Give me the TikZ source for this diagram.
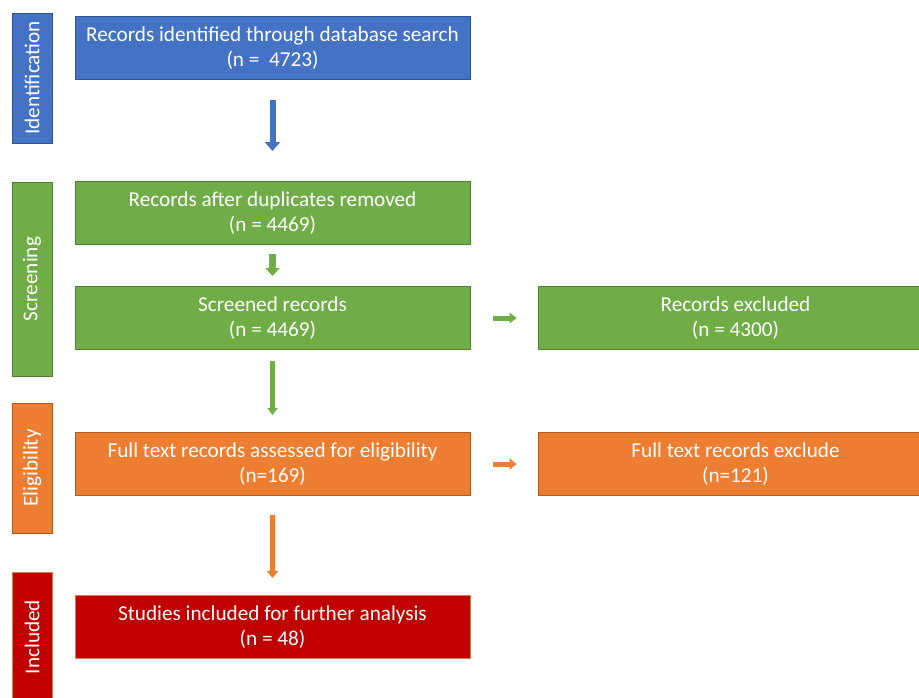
\documentclass[tikz,border=0pt]{standalone}
\usepackage{fontspec}
\setmainfont{Carlito}
\usetikzlibrary{positioning}
\usetikzlibrary{arrows.meta}

\definecolor{idblue}{HTML}{4472C4}
\definecolor{idblueline}{HTML}{2F528F}
\definecolor{scrgreen}{HTML}{70AD47}
\definecolor{scrgreenline}{HTML}{507E32}
\definecolor{eliorange}{HTML}{ED7D31}
\definecolor{eliorangeline}{HTML}{AE5A21}
\definecolor{incred}{HTML}{C00000}
\definecolor{incredline}{HTML}{D08050}

\tikzset{
  box/.style={rectangle, draw, line width=1pt, text=white, align=center,
    minimum width=395pt, minimum height=63pt, inner sep=0pt,
    font=\fontsize{21.2}{25}\selectfont},
  side/.style={rectangle, draw, line width=1pt, text=white, rotate=90,
    minimum width=130pt, minimum height=40pt, inner sep=0pt,
    font=\fontsize{21.2}{25}\selectfont},
  flow/.style={line cap=butt}
}

\begin{document}
\begin{tikzpicture}[x=1pt,y=-1pt]

  \useasboundingbox (0,0) rectangle (919,697);

  % Phase labels
  \node[side, fill=idblue, draw=idblueline] (ident) at (32,78) {Identification};
  \node[side, fill=scrgreen, draw=scrgreenline, minimum width=194pt] (screen) at (32,279) {Screening};
  \node[side, fill=eliorange, draw=eliorangeline] (elig) at (32,468) {Eligibility};
  \node[side, fill=incred, draw=incredline] (incl) at (32,637) {Included};

  % Define boxes
  \node[box, fill=idblue, draw=idblueline] (found) at (272.5,48) {Records identified through database search\\(n =~ 4723)};
  \node[box, fill=scrgreen, draw=scrgreenline, below=101pt of found] (dedup) {Records after duplicates removed\\(n = 4469)};
  \node[box, fill=scrgreen, draw=scrgreenline, below=41pt of dedup] (screened) {Screened records\\(n = 4469)};
  \node[box, fill=scrgreen, draw=scrgreenline, right=67pt of screened] (excluded) {Records excluded\\(n = 4300)};
  \node[box, fill=eliorange, draw=eliorangeline, below=82pt of screened] (fulltext) {Full text records assessed for eligibility\\(n=169)};
  \node[box, fill=eliorange, draw=eliorangeline, right=67pt of fulltext] (ftexcl) {Full text records exclude\\(n=121)};
  \node[box, fill=incred, draw=incredline, below=99pt of fulltext] (studies) {Studies included for further analysis\\(n = 48)};

  % Connect the boxes
  \draw[flow, idblue, line width=6pt, -{Triangle[width=15pt,length=9pt]}, shorten <=20pt, shorten >=30pt] (found) -- (dedup);
  \draw[flow, scrgreen, line width=7pt, -{Triangle[width=14pt,length=8pt]}, shorten <=9pt, shorten >=10pt] (dedup) -- (screened);
  \draw[flow, scrgreen, line width=5pt, -{Triangle[width=10pt,length=7pt]}, shorten <=11pt, shorten >=17pt] (screened) -- (fulltext);
  \draw[flow, scrgreen, line width=5pt, -{Triangle[width=11pt,length=7pt]}, shorten <=22pt, shorten >=21pt] (screened) -- (excluded);
  \draw[flow, eliorange, line width=5pt, -{Triangle[width=11pt,length=7pt]}, shorten <=22pt, shorten >=21pt] (fulltext) -- (ftexcl);
  \draw[flow, eliorange, line width=5pt, -{Triangle[width=11pt,length=7pt]}, shorten <=19pt, shorten >=17pt] (fulltext) -- (studies);

\end{tikzpicture}
\end{document}
